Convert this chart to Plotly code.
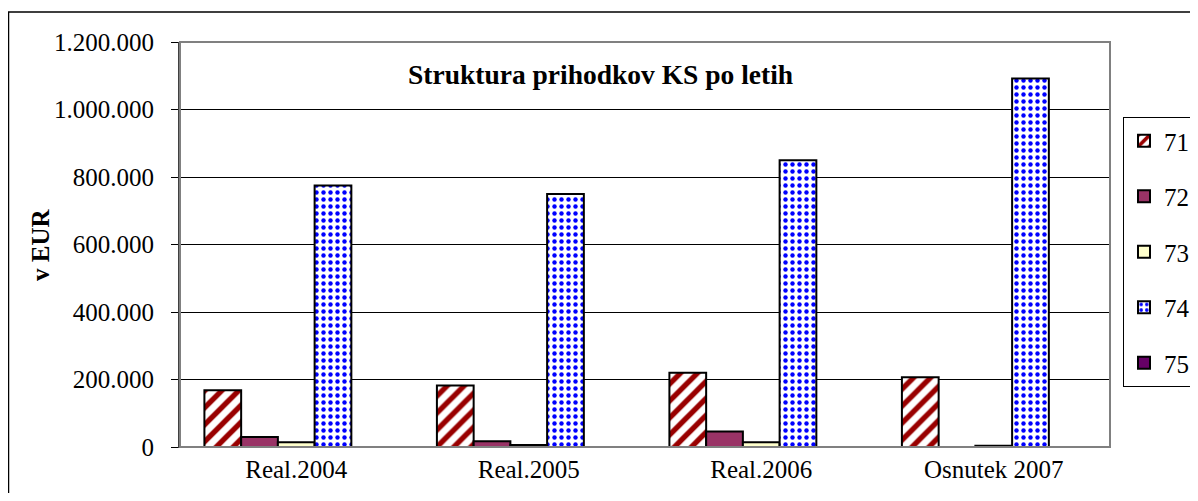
import plotly.graph_objects as go

categories = ["Real.2004", "Real.2005", "Real.2006", "Osnutek 2007"]
series_names = ["71", "72", "73", "74", "75"]
v71 = [168000, 182000, 220000, 207000]
v72 = [30000, 17000, 46000, 0]
v73 = [14000, 6000, 14000, 4000]
v74 = [775000, 750000, 850000, 1092000]
v75 = [0, 0, 0, 0]
y_ticks = [0, 200000, 400000, 600000, 800000, 1000000, 1200000]

FONT = "Liberation Serif, Times New Roman, serif"

# page body has an 8px margin; figure coordinates are reference pixels minus 8
OFFX, OFFY = 8, 8
W, H = 1198 - OFFX, 501 - 2 * OFFY
L, R, T, B = 180 - OFFX, 1110 - OFFX, 42 - OFFY, 447 - OFFY

def px_x(x):
    return (x - OFFX - L) / (R - L)

def px_y(y):
    return (B - (y - OFFY)) / (B - T)

fig = go.Figure()
line = dict(color="black", width=2)
fig.add_trace(go.Bar(name=series_names[0], x=categories, y=v71, legendgroup="a",
                     marker=dict(color="white", line=line,
                                 pattern=dict(shape="/", fgcolor="#990000", bgcolor="white",
                                              fgopacity=1, size=12, solidity=0.45))))
fig.add_trace(go.Bar(name=series_names[1], x=categories, y=v72, legendgroup="b",
                     marker=dict(color="#993366", line=line)))
fig.add_trace(go.Bar(name=series_names[2], x=categories, y=v73, legendgroup="c",
                     marker=dict(color="#FFFFCC", line=line)))
fig.add_trace(go.Bar(name=series_names[3], x=categories, y=v74, legendgroup="d",
                     marker=dict(color="white", line=line,
                                 pattern=dict(shape=".", fgcolor="#0000FF", bgcolor="white",
                                              fgopacity=1, size=7, solidity=0.32))))
fig.add_trace(go.Bar(name=series_names[4], x=categories, y=v75, legendgroup="e",
                     marker=dict(color="#660066", line=line)))

fig.update_layout(
    width=W, height=H,
    margin=dict(l=L, r=W - R, t=T, b=H - B, pad=0, autoexpand=False),
    paper_bgcolor="white", plot_bgcolor="white",
    barmode="group", bargap=0.21, bargroupgap=0,
    separators=",.",
    font=dict(family=FONT, size=25, color="black"),
    showlegend=True,
    legend=dict(x=px_x(1123), y=px_y(117), xanchor="left", yanchor="top",
                bordercolor="black", borderwidth=1, bgcolor="white",
                font=dict(family=FONT, size=25, color="black"),
                tracegroupgap=20, traceorder="grouped", itemwidth=30),
    xaxis=dict(showline=True, linecolor="#404040", linewidth=1, showgrid=False,
               ticks="", tickfont=dict(family=FONT, size=25, color="black"),
               fixedrange=True),
    yaxis=dict(range=[0, 1200000], tickvals=y_ticks, tickformat=",d",
               showgrid=True, gridcolor="black", gridwidth=1,
               showline=True, linecolor="#404040", linewidth=2,
               ticks="outside", ticklen=7, tickcolor="black",
               ticklabelstandoff=12,
               tickfont=dict(family=FONT, size=25, color="black"), zeroline=False),
    shapes=[
        dict(type="rect", xref="paper", yref="paper", x0=0, x1=1, y0=0, y1=1,
             line=dict(color="#808080", width=2), layer="above"),
        dict(type="rect", xref="paper", yref="paper", x0=px_x(8.5), x1=px_x(1300),
             y0=px_y(600), y1=px_y(12), line=dict(color="black", width=1.5)),
    ],
    annotations=[
        dict(text="<b>Struktura prihodkov KS po letih</b>", x=px_x(600), y=px_y(74),
             xref="paper", yref="paper", showarrow=False,
             font=dict(family=FONT, size=27.5, color="black"),
             xanchor="center", yanchor="middle"),
        dict(text="<b>v EUR</b>", x=px_x(40), y=px_y(245), xref="paper", yref="paper",
             showarrow=False, textangle=-90,
             font=dict(family=FONT, size=25, color="black"),
             xanchor="center", yanchor="middle"),
    ],
)

fig.write_html("out.html")
